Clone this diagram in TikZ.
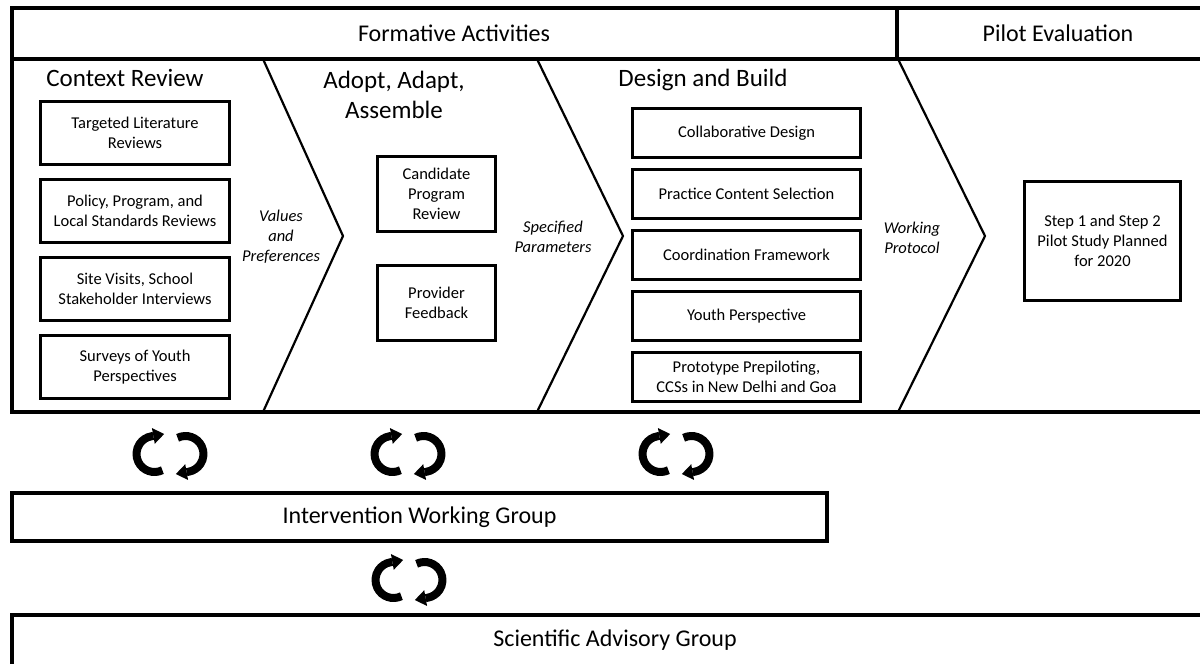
\documentclass[tikz,border=0pt]{standalone}
\usepackage{fontspec}
\setmainfont{Carlito}
\usetikzlibrary{arrows.meta}

\begin{document}
\begin{tikzpicture}[x=1pt,y=1pt,
  frame/.style={line width=3.6pt},
  chev/.style={line width=2.2pt, line join=miter},
  box/.style={draw, line width=3.4pt, align=center, inner sep=2pt,
    font=\fontsize{16.5}{19.8}\selectfont},
  cbox/.style={box, minimum width=189, minimum height=63},
  abox/.style={box, minimum width=118, minimum height=75},
  dbox/.style={box, minimum width=227.5, minimum height=48.5},
  bandtext/.style={font=\fontsize{24}{29}\selectfont},
  phase/.style={font=\fontsize{25}{30}\selectfont, align=center},
  flow/.style={font=\itshape\fontsize{16.5}{20}\selectfont, align=center},
  syncline/.style={line width=8pt, -{Triangle[width=16pt,length=11pt,line width=0pt]}},
  syncarrows/.pic={
    \draw[syncline] (-15.5,0) ++(-64:18)
      arc[start angle=-64, end angle=-260, radius=18] -- ++(12.8,2.3);
    \draw[syncline] (15.5,0) ++(116:18)
      arc[start angle=116, end angle=-80, radius=18] -- ++(-12.8,-2.3);
  }
]
\useasboundingbox (0,0) rectangle (1200,-664);
\clip (0,0) rectangle (1200,-664);

% header bar and the band of phases
\draw[frame] (12,-8) rectangle (1225,-59);
\draw[frame] (12,-59) rectangle (1225,-412);
\draw[frame] (897,-8) -- (897,-59);
\node[bandtext] (formative) at (454,-33) {Formative Activities};
\node[bandtext] (pilot) at (1058,-33) {Pilot Evaluation};

% chevrons between phases
\draw[chev] (263,-59) -- (343,-236) -- (263,-412);
\draw[chev] (537,-59) -- (623,-236) -- (537,-412);
\draw[chev] (898,-59) -- (985,-236) -- (898,-412);

% phase titles
\node[phase] (ctx) at (125,-78) {Context Review};
\node[phase] (aaa) at (394,-95) {Adopt, Adapt,\\Assemble};
\node[phase] (dab) at (703,-80) {Design and Build};

% hand-off labels
\node[flow] (vp) at (281,-237) {Values\\and\\Preferences};
\node[flow] (sp) at (553,-237) {Specified\\Parameters};
\node[flow] (wp) at (912,-238) {Working\\Protocol};

% context review
\node[cbox] (c1) at (135,-133) {Targeted Literature\\Reviews};
\node[cbox] (c2) at (135,-211) {Policy, Program, and\\Local Standards Reviews};
\node[cbox] (c3) at (135,-289) {Site Visits, School\\Stakeholder Interviews};
\node[cbox] (c4) at (135,-367) {Surveys of Youth\\Perspectives};

% adopt, adapt, assemble
\node[abox] (a1) at (436.5,-194) {Candidate\\Program\\Review};
\node[abox] (a2) at (436.5,-303) {Provider\\Feedback};

% design and build
\node[dbox] (d1) at (746.5,-133) {Collaborative Design};
\node[dbox] (d2) at (746.5,-194) {Practice Content Selection};
\node[dbox] (d3) at (746.5,-255) {Coordination Framework};
\node[dbox] (d4) at (746.5,-316) {Youth Perspective};
\node[dbox] (d5) at (746.5,-377) {Prototype Prepiloting,\\CCSs in New Delhi and Goa};

% pilot evaluation
\node[box, minimum width=155.5, minimum height=118.5] (p1) at (1102.5,-241)
  {Step 1 and Step 2\\Pilot Study Planned\\for 2020};

% feedback loops
\pic at (170,-454) {syncarrows};
\pic at (408,-454) {syncarrows};
\pic at (676,-454) {syncarrows};
\pic at (409,-580) {syncarrows};

% working groups
\node[draw, line width=4pt, minimum width=815, minimum height=48, bandtext] (iwg)
  at (419.5,-517) {Intervention Working Group};
\draw[line width=4pt] (12,-615) rectangle (1225,-700);
\node[bandtext] (sag) at (615,-640) {Scientific Advisory Group};
\end{tikzpicture}
\end{document}
